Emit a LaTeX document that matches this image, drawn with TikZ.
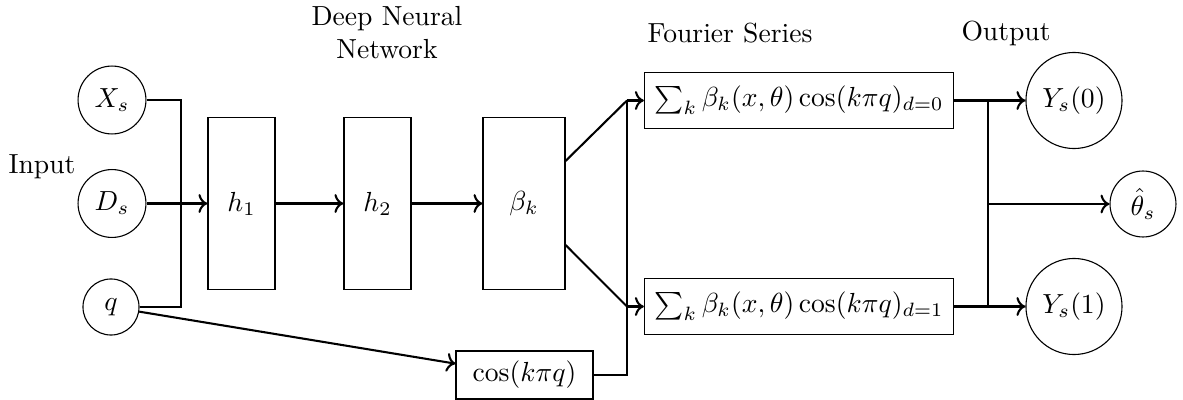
\documentclass[tikz,border=0pt]{standalone}
\usetikzlibrary{arrows.meta}
\begin{document}
\begin{tikzpicture}[x=0.3623pt,y=-0.3623pt,
  circ/.style={draw,circle,inner sep=0pt,line width=0.4pt},
  layer/.style={draw,rectangle,minimum width=24.3pt,minimum height=62pt,inner sep=0pt,line width=0.4pt},
  sumbox/.style={draw,rectangle,minimum width=112pt,minimum height=20pt,inner sep=2pt,line width=0.4pt},
  conn/.style={line width=0.75pt},
  arr/.style={line width=0.75pt,->},
  lbl/.style={inner sep=0pt,align=center}]
\useasboundingbox (0,0) rectangle (1183,400);
% inputs
\node[circ,minimum size=24.6pt] (xs) at (112,100) {$X_s$};
\node[circ,minimum size=24.6pt] (ds) at (112,203.5) {$D_s$};
\node[circ,minimum size=20.3pt] (q) at (111,307) {$q$};
\node[lbl] (input) at (42,167) {Input};
% network
\node[layer] (h1) at (241.5,203.5) {$h_1$};
\node[layer] (h2) at (377.5,203.5) {$h_2$};
\node[layer,minimum width=29.7pt] (bk) at (524,203.5) {$\beta_k$};
\node[lbl] (dnn) at (387,33) {Deep Neural\\Network};
\node[draw,rectangle,minimum width=49.6pt,minimum height=17.4pt,inner sep=0pt,line width=0.4pt] (cos) at (524.5,375) {$\cos(k\pi q)$};
% fourier
\node[sumbox] (s0) at (799,100.5) {$\sum_k \beta_k(x,\theta)\cos(k\pi q)_{d=0}$};
\node[sumbox] (s1) at (799,306.5) {$\sum_k \beta_k(x,\theta)\cos(k\pi q)_{d=1}$};
\node[lbl] (fs) at (730,33) {Fourier Series};
% outputs
\node[circ,minimum size=34.8pt] (y0) at (1074,100.5) {$Y_s(0)$};
\node[circ,minimum size=23.9pt] (th) at (1143,204) {$\hat{\theta}_s$};
\node[circ,minimum size=34.8pt] (y1) at (1074,306.5) {$Y_s(1)$};
\node[lbl] (out) at (1006,33) {Output};
% junction coordinates
\coordinate (jin) at (181,203.5);
\coordinate (jf0) at (627,100.5);
\coordinate (jf1) at (627,306.5);
\coordinate (jo0) at (988,100.5);
\coordinate (jo1) at (988,306.5);
\coordinate (joth) at (988,204);
% connectors
\draw[conn] (xs.east) -| (jin);
\draw[conn] (q.east) -| (jin);
\draw[arr] (ds.east) -- (h1.west);
\draw[arr] (h1.east) -- (h2.west);
\draw[arr] (h2.east) -- (bk.west);
\draw[conn] (bk.east |- 0,161) -- (jf0);
\draw[conn] (bk.east |- 0,245) -- (jf1);
\draw[arr] (jf0) -- (s0.west);
\draw[arr] (jf1) -- (s1.west);
\draw[arr] (q) -- (cos);
\draw[conn] (cos.east) -| (jf0);
\draw[conn] (s0.east) -- (jo0);
\draw[conn] (s1.east) -- (jo1);
\draw[conn] (jo0) -- (jo1);
\draw[arr] (jo0) -- (y0.west);
\draw[arr] (jo1) -- (y1.west);
\draw[arr] (joth) -- (th.west);
\end{tikzpicture}
\end{document}
